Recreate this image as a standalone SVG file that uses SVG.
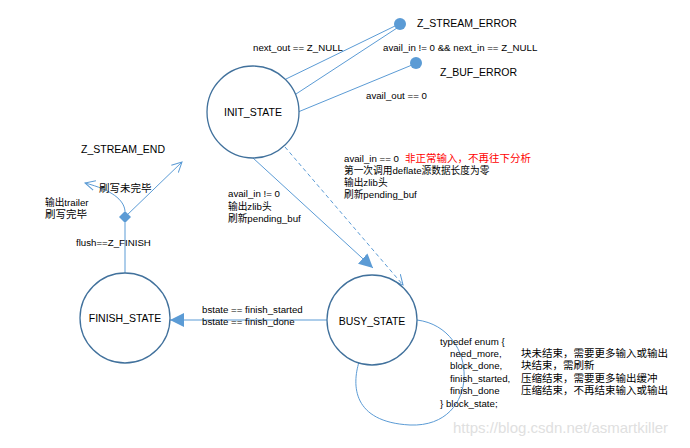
<svg xmlns="http://www.w3.org/2000/svg" width="690" height="448" viewBox="0 0 690 448">
<defs>
<style>
text{font-family:"Liberation Sans","Noto Sans CJK SC",sans-serif;font-size:9.7px;fill:#000}
.cj{font-size:10.5px}
.big{font-size:10.5px}
.st{font-size:10.5px;text-anchor:middle}
.red{fill:#ff0000;font-size:10.5px}
.state{fill:#fff;stroke:#41719c;stroke-width:1.3}
.c{fill:none;stroke:#5b9bd5;stroke-width:1}
.dot{fill:#5b9bd5}
.wm{font-size:15px;fill:#e0e0e0}
</style>
<marker id="tri" markerUnits="userSpaceOnUse" markerWidth="16" markerHeight="14" refX="14" refY="7" orient="auto">
<path d="M0,0 L14,7 L0,14 Z" fill="#5b9bd5"/>
</marker>
<marker id="open" markerUnits="userSpaceOnUse" markerWidth="12" markerHeight="12" refX="10" refY="6" orient="auto">
<path d="M0,1 L10,6 L0,11" fill="none" stroke="#5b9bd5" stroke-width="1"/>
</marker>
</defs>
<rect width="690" height="448" fill="#fff"/>
<g id="connectors">
<line class="c" x1="286" y1="79" x2="395" y2="26"/>
<line class="c" x1="296" y1="94" x2="397" y2="28"/>
<line class="c" x1="298" y1="112" x2="412" y2="65"/>
<line class="c" x1="253" y1="158" x2="373" y2="268" marker-end="url(#tri)"/>
<line class="c" x1="285" y1="147" x2="403" y2="285" stroke-dasharray="4,3" marker-end="url(#open)"/>
<line class="c" x1="327" y1="320" x2="170" y2="320" stroke-width="1.5" marker-end="url(#tri)"/>
<line class="c" x1="125" y1="273" x2="125" y2="223" stroke-width="1.5"/>
<line class="c" x1="125" y1="217" x2="182" y2="162" marker-end="url(#open)"/>
<path class="c" d="M125,211 C124,200 112,190 85,183" marker-end="url(#open)"/>
<path class="c" d="M417,320 C480,328 482,428 410,425 C352,422 352,385 359,362"/>
</g>
<g id="z_stream_error">
<circle class="dot" cx="400" cy="24" r="6"/>
<text class="big" x="417" y="27">Z_STREAM_ERROR</text>
</g>
<g id="z_buf_error">
<circle class="dot" cx="416" cy="63" r="6"/>
<text class="big" x="440" y="76">Z_BUF_ERROR</text>
</g>
<g id="init_state">
<circle class="state" cx="253" cy="112" r="46"/>
<text class="st" x="253" y="116">INIT_STATE</text>
</g>
<g id="busy_state">
<circle class="state" cx="372" cy="320" r="45"/>
<text class="st" x="372" y="325">BUSY_STATE</text>
</g>
<g id="finish_state">
<circle class="state" cx="125" cy="318" r="45"/>
<text class="st" x="125" y="322">FINISH_STATE</text>
</g>
<g id="decision">
<path d="M125,211 L131,217 L125,223 L119,217 Z" fill="#5b9bd5"/>
</g>
<g id="z_stream_end">
<text class="big" x="81" y="153">Z_STREAM_END</text>
</g>
<g id="labels">
<text x="253" y="51">next_out == Z_NULL</text>
<text x="383" y="51">avail_in != 0 &amp;&amp; next_in == Z_NULL</text>
<text x="366" y="99">avail_out == 0</text>
<text x="228" y="197">avail_in != 0</text>
<text x="228" y="210">输出zlib头</text>
<text x="228" y="222">刷新pending_buf</text>
<text x="344" y="162">avail_in == 0</text>
<text class="red" x="405" y="162">非正常输入，不再往下分析</text>
<text x="344" y="174">第一次调用deflate源数据长度为零</text>
<text x="344" y="186">输出zlib头</text>
<text x="344" y="198">刷新pending_buf</text>
<text class="cj" x="99" y="192">刷写未完毕</text>
<text x="45" y="206">输出trailer</text>
<text class="cj" x="45" y="218">刷写完毕</text>
<text x="76" y="246">flush==Z_FINISH</text>
<text x="202" y="313">bstate == finish_started</text>
<text x="202" y="325">bstate == finish_done</text>
<text x="440" y="345">typedef enum {</text>
<text x="450" y="357">need_more,</text>
<text class="cj" x="521" y="357">块未结束，需要更多输入或输出</text>
<text x="450" y="369">block_done,</text>
<text class="cj" x="521" y="369">块结束，需刷新</text>
<text x="450" y="382">finish_started,</text>
<text class="cj" x="521" y="382">压缩结束，需要更多输出缓冲</text>
<text x="450" y="394">finish_done</text>
<text class="cj" x="521" y="394">压缩结束，不再结束输入或输出</text>
<text x="440" y="407">} block_state;</text>
<text class="wm" x="453" y="433">https://blog.csdn.net/asmartkiller</text>
</g>
</svg>
